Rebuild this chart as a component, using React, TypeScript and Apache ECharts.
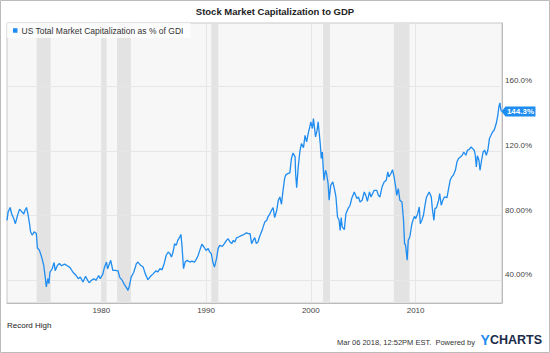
import React, { useEffect, useRef } from "react";
import * as echarts from "echarts";

const FONT = "'Liberation Sans', Arial, Helvetica, sans-serif";
const TITLE = "Stock Market Capitalization to GDP";
const SERIES_NAME = "US Total Market Capitalization as % of GDI";
const LINE_COLOR = "#1f8cf0";

// [decimal year, % of GDI]
const data1970s: [number, number][] = [
  [1971.0, 77], [1971.1, 82], [1971.3, 85], [1971.45, 81], [1971.65, 78], [1971.8, 75],
  [1972.0, 80], [1972.2, 84], [1972.4, 82.5], [1972.6, 81], [1972.7, 83], [1972.86, 85],
  [1973.0, 81], [1973.15, 75], [1973.25, 70], [1973.4, 68], [1973.6, 70], [1973.8, 69],
  [1973.9, 60], [1974.1, 58.5], [1974.3, 54.5], [1974.5, 49.5], [1974.65, 42], [1974.75, 36],
  [1974.9, 41], [1975.0, 38], [1975.1, 45], [1975.3, 47], [1975.5, 51], [1975.6, 46],
  [1975.8, 49], [1976.0, 50.5], [1976.2, 49], [1976.5, 50], [1976.75, 49], [1977.0, 48],
  [1977.3, 45], [1977.6, 43], [1977.8, 41], [1978.0, 42], [1978.25, 39], [1978.5, 42.5],
  [1978.7, 40], [1978.85, 38.5], [1979.05, 40], [1979.3, 41], [1979.5, 40], [1979.75, 43],
  [1979.9, 41],
];
const data1980s: [number, number][] = [
  [1980.15, 44], [1980.3, 48], [1980.5, 51.3], [1980.6, 47], [1980.9, 52.4], [1981.1, 46.2],
  [1981.35, 46.2], [1981.6, 45.8], [1981.75, 42], [1982.0, 40], [1982.15, 38], [1982.4, 35.5],
  [1982.55, 33.8], [1982.7, 37], [1982.85, 42], [1983.1, 45], [1983.35, 50.3], [1983.5, 51.3],
  [1983.75, 49.3], [1984.0, 48.2], [1984.2, 44], [1984.45, 40.4], [1984.7, 42.5], [1984.95, 44],
  [1985.2, 45.8], [1985.4, 45.2], [1985.6, 47.2], [1985.8, 46.5], [1986.0, 50.3], [1986.2, 55.5],
  [1986.4, 57.5], [1986.55, 56.5], [1986.7, 54.4], [1986.85, 57.5], [1987.0, 62.7], [1987.15, 61.6],
  [1987.3, 64.7], [1987.5, 66.8], [1987.6, 68.4], [1987.7, 61.6], [1987.85, 47.2], [1988.0, 51.3],
  [1988.2, 52.4], [1988.45, 51.3], [1988.65, 51.9], [1988.9, 51.3], [1989.1, 53.4], [1989.25, 55.5],
  [1989.4, 58.5], [1989.6, 62.3], [1989.8, 60.6],
];
const data1990s: [number, number][] = [
  [1990.0, 58.5], [1990.2, 59.6], [1990.35, 57.5], [1990.5, 56.5], [1990.65, 51.3], [1990.8, 48.2],
  [1991.0, 53.4], [1991.15, 59.6], [1991.3, 61.6], [1991.55, 61], [1991.75, 62.7], [1991.95, 64.7],
  [1992.1, 65.7], [1992.3, 63.6], [1992.45, 62.7], [1992.6, 64.7], [1992.75, 63.6], [1992.9, 66.2],
  [1993.1, 66.8], [1993.4, 67.8], [1993.6, 68.3], [1993.85, 69.3], [1994.05, 68.9], [1994.2, 68.9],
  [1994.35, 62.7], [1994.5, 64.7], [1994.65, 66.4], [1994.8, 62.7], [1994.95, 63.6], [1995.1, 66.8],
  [1995.35, 70.9], [1995.6, 76], [1995.8, 77.1], [1995.9, 79.1], [1996.1, 81.2], [1996.25, 83.3],
  [1996.4, 84.9], [1996.55, 78.8], [1996.75, 83.3], [1996.9, 89.5], [1997.05, 91.5], [1997.2, 87],
  [1997.35, 95.6], [1997.5, 102.9], [1997.6, 105], [1997.8, 106], [1998.0, 106.4], [1998.15, 115.3],
  [1998.3, 118.7], [1998.5, 116.3], [1998.55, 106], [1998.65, 97.3], [1998.8, 110], [1998.95, 119.3],
  [1999.1, 124.5], [1999.3, 122], [1999.45, 129.6], [1999.6, 125.5], [1999.75, 130.7], [1999.9, 134.8],
];
const data2000s: [number, number][] = [
  [2000.0, 137.9], [2000.15, 133.8], [2000.25, 140], [2000.45, 128.6], [2000.6, 132.7], [2000.7, 137.9],
  [2000.9, 124.5], [2001.0, 115.3], [2001.1, 119.3], [2001.25, 101.8], [2001.4, 108], [2001.5, 106],
  [2001.65, 99.8], [2001.75, 89.5], [2001.9, 98.7], [2002.1, 100.8], [2002.25, 96.7], [2002.4, 91.5],
  [2002.55, 79.1], [2002.7, 77.1], [2002.8, 70.9], [2002.9, 78.8], [2003.0, 73], [2003.2, 71.3],
  [2003.35, 81.2], [2003.55, 84.3], [2003.75, 86.4], [2003.9, 90.5], [2004.15, 94.6], [2004.4, 90.5],
  [2004.55, 91.5], [2004.7, 88.4], [2004.9, 89.5], [2005.1, 94.6], [2005.25, 92.5], [2005.4, 88.8],
  [2005.6, 94.6], [2005.75, 91.5], [2005.9, 93.6], [2006.05, 95.6], [2006.3, 95.6], [2006.45, 92.5],
  [2006.6, 91.5], [2006.8, 97.7], [2007.0, 100.8], [2007.2, 101.8], [2007.35, 107], [2007.45, 103.9],
  [2007.65, 106], [2007.8, 108.4], [2007.95, 103.9], [2008.1, 97.7], [2008.2, 92.5], [2008.35, 96.7],
  [2008.5, 89.5], [2008.7, 88.4], [2008.85, 77.1], [2008.95, 62.7], [2009.05, 61.6], [2009.2, 52.4],
  [2009.3, 64.7], [2009.45, 66.8], [2009.65, 75], [2009.8, 78.1], [2009.9, 79.6],
];
const data2010s: [number, number][] = [
  [2010.0, 78.1], [2010.2, 81.2], [2010.35, 85.3], [2010.45, 75], [2010.6, 77.1], [2010.75, 80.2],
  [2010.9, 86.4], [2011.05, 91.5], [2011.3, 94.6], [2011.5, 91.5], [2011.6, 84.3], [2011.75, 77.1],
  [2011.85, 84.3], [2012.0, 84.9], [2012.2, 89.5], [2012.3, 93.6], [2012.45, 86.4], [2012.6, 89.5],
  [2012.75, 91.5], [2013.0, 91.1], [2013.15, 96.7], [2013.3, 101.8], [2013.45, 103.9], [2013.6, 104.9],
  [2013.8, 108], [2013.95, 113.1], [2014.1, 115.3], [2014.3, 116.3], [2014.45, 117.3], [2014.6, 119.3],
  [2014.8, 117.3], [2014.95, 120.4], [2015.1, 120.8], [2015.3, 122.4], [2015.45, 121.4], [2015.6, 120.4],
  [2015.7, 117.3], [2015.8, 110], [2015.9, 117], [2016.05, 114.2], [2016.15, 108], [2016.3, 114.2],
  [2016.45, 119.3], [2016.6, 120.4], [2016.75, 117.3], [2016.9, 120.4], [2017.05, 127.6], [2017.2, 129.6],
  [2017.35, 131.7], [2017.5, 132.7], [2017.7, 136.9], [2017.85, 142], [2017.95, 147.1], [2018.05, 149.6],
  [2018.12, 146.1], [2018.2, 144.3],
];

// NBER recessions [start, end] as decimal years
const recessions: [number, number][] = [
  [1973.83, 1975.17], [1980.0, 1980.5], [1981.5, 1982.83],
  [1990.5, 1991.17], [2001.17, 2001.83], [2007.92, 2009.42],
];

const xTickValues = [1980, 1990, 2000, 2010];
const yTickValues = [40, 80, 120, 160];
const yTickLabels = ["40.00%", "80.00%", "120.0%", "160.0%"];
const X_MIN = 1971;
const X_MAX = 2018.25;
const Y_MIN = 26;
const Y_MAX = 199;

const FOOTNOTE = "Record High";
const TIMESTAMP = "Mar 06 2018, 12:52PM EST.  Powered by";

export default function App() {
  const ref = useRef<HTMLDivElement>(null);

  useEffect(() => {
    document.body.style.margin = "0";
    if (!ref.current) return;
    const chart = echarts.init(ref.current, undefined, { renderer: "svg" });
    const seriesData = [...data1970s, ...data1980s, ...data1990s, ...data2000s, ...data2010s];
    const last = seriesData[seriesData.length - 1];

    chart.setOption({
      animation: false,
      title: {
        text: TITLE,
        left: "center",
        top: 6,
        padding: 0,
        textStyle: { fontFamily: FONT, fontSize: 9.5, fontWeight: "bold", color: "#222" },
      },
      legend: {
        left: 7,
        top: 23,
        padding: [3, 7, 3, 6],
        backgroundColor: "rgba(255,255,255,0.75)",
        icon: "rect",
        itemWidth: 4.5,
        itemHeight: 4.5,
        textStyle: { fontFamily: FONT, fontSize: 8.5, color: "#333", padding: [0, 0, 0, -1] },
        data: [{ name: SERIES_NAME, itemStyle: { color: LINE_COLOR } }],
        selectedMode: false,
      },
      grid: {
        left: 7,
        right: 48,
        top: 23,
        bottom: 50,
        show: true,
        backgroundColor: "#f7f7f7",
        borderColor: "#c8c8c8",
        borderWidth: 1,
      },
      xAxis: {
        type: "value",
        min: X_MIN,
        max: X_MAX,
        axisLine: { show: true, lineStyle: { color: "#bbb" } },
        axisTick: { show: false },
        splitLine: { show: false },
        axisLabel: {
          customValues: xTickValues,
          formatter: (v: number) => (xTickValues.includes(v) ? String(v) : ""),
          fontFamily: FONT,
          fontSize: 8,
          color: "#444",
          margin: 3,
        },
      },
      yAxis: {
        type: "value",
        position: "right",
        min: Y_MIN,
        max: Y_MAX,
        axisLine: { show: true, lineStyle: { color: "#bbb" } },
        axisTick: { show: false },
        splitLine: { show: false },
        axisLabel: {
          customValues: yTickValues,
          formatter: (v: number) => {
            const i = yTickValues.indexOf(v);
            return i >= 0 ? yTickLabels[i] : "";
          },
          fontFamily: FONT,
          fontSize: 8,
          color: "#444",
          margin: 3,
          verticalAlign: "bottom",
          lineHeight: 11,
        },
      },
      series: [
        {
          name: SERIES_NAME,
          type: "line",
          data: seriesData,
          showSymbol: false,
          clip: false,
          z: 3,
          lineStyle: { color: LINE_COLOR, width: 1.3 },
          itemStyle: { color: LINE_COLOR },
          markArea: {
            silent: true,
            z: 1,
            itemStyle: { color: "#e3e3e3" },
            label: { show: false },
            data: recessions.map(([a, b]) => [{ xAxis: a }, { xAxis: b }]),
          },
          markLine: {
            silent: true,
            z: 1,
            symbol: ["none", "none"],
            label: { show: false },
            lineStyle: { color: "#e6e6e6", width: 1, type: "solid" },
            data: [
              ...xTickValues.map((v) => ({ xAxis: v })),
              ...yTickValues.map((v) => ({ yAxis: v })),
            ],
          },
          markPoint: {
            silent: true,
            z: 6,
            symbol: "path://M0,5L4,0L34,0L34,10L4,10Z",
            symbolSize: [34, 10],
            symbolKeepAspect: false,
            symbolOffset: [17, 0],
            itemStyle: { color: LINE_COLOR },
            label: {
              show: true,
              position: "inside",
              formatter: () => `${last[1].toFixed(1)}%`,
              color: "#fff",
              fontFamily: FONT,
              fontSize: 8,
              fontWeight: "bold",
              offset: [2, 0],
            },
            data: [{ coord: last, value: last[1] }],
          },
        },
      ],
      graphic: [
        {
          type: "rect",
          shape: { x: 0.5, y: 0.5, width: 549, height: 352 },
          style: { fill: "none", stroke: "#bbb", lineWidth: 1 },
          silent: true,
        },
        {
          type: "text",
          left: 7,
          top: 321,
          style: { text: FOOTNOTE, fontFamily: FONT, fontSize: 8, fill: "#222" },
        },
        {
          type: "text",
          right: 75,
          top: 338,
          style: { text: TIMESTAMP, fontFamily: FONT, fontSize: 7.5, fill: "#333" },
        },
        {
          type: "text",
          right: 8,
          top: 333,
          style: {
            text: "{y|Y}{c|CHARTS}",
            fontFamily: FONT,
            rich: {
              y: { fontFamily: FONT, fontSize: 14, fontWeight: "bold", fill: LINE_COLOR, color: LINE_COLOR },
              c: { fontFamily: FONT, fontSize: 12.5, fontWeight: "bold", fill: "#1c2b4a", color: "#1c2b4a" },
            },
          },
        },
      ],
    });

    return () => chart.dispose();
  }, []);

  return <div ref={ref} style={{ width: 550, height: 353 }} />;
}
